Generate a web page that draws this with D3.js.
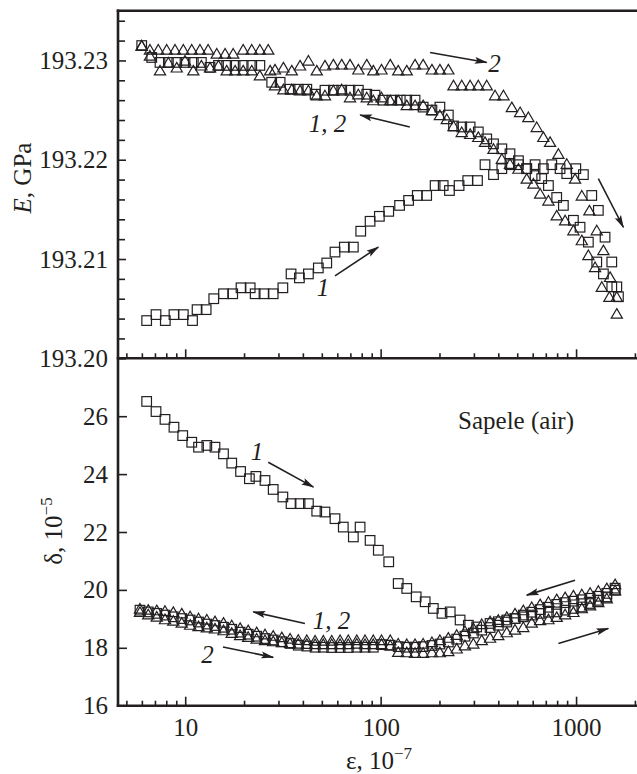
<!DOCTYPE html>
<html>
<head>
<meta charset="utf-8">
<script src="https://d3js.org/d3.v7.min.js"></script>
<style>
    body { margin: 0; background: #fff; }
    svg { display: block; }
    svg text { font-family: "Liberation Serif", "DejaVu Serif", "Noto Serif", Tinos, Times, serif; }
</style>
</head>
<body>
<div id="chart"></div>
<script>
// ---- data (strain in 1e-7, E in GPa, delta in 1e-5) ----
// top panel, E
const eSq1Up = [[6.35,193.2038],[7.09,193.2044],[7.91,193.2038],[8.76,193.2044],[9.78,193.2044],[10.9,193.2038],[11.5,193.2049],[12.8,193.2049],[14.0,193.2060],[15.7,193.2065],[17.5,193.2065],[19.3,193.2071],[21.5,193.2071],[22.8,193.2065],[25.3,193.2065],[28.2,193.2065],[31.6,193.2071],[34.8,193.2085],[38.4,193.2081],[42.7,193.2085],[48.0,193.2091],[53.0,193.2096],[58.4,193.2107],[65.2,193.2112],[72.5,193.2112],[79.1,193.2128],[88.3,193.2138],[98.5,193.2143],[110,193.2148],[125,193.2154],[139,193.2159],[154,193.2164],[172,193.2164],[190,193.2174],[209,193.2174],[225,193.2169],[252,193.2174],[279,193.2179],[313,193.2179],[342,193.2195],[378,193.2185],[417,193.2191],[459,193.2195],[507,193.2195],[559,193.2191],[617,193.2195],[680,193.2191],[751,193.2195],[828,193.2191],[896,193.2186],[997,193.2191],[1090,193.2185],[1203,193.2164],[1300,193.2149],[1407,193.2122],[1523,193.2097],[1616,193.2072]];
const eSqDown = [[1647,193.2062],[1523,193.2072],[1380,193.2085],[1276,193.2097],[1156,193.2117],[1048,193.2132],[969,193.2139],[861,193.2154],[796,193.2162],[722,193.2174],[667,193.2181],[617,193.2184],[559,193.2191],[507,193.2199],[459,193.2206],[417,193.2211],[378,193.2216],[349,193.2221],[316,193.2228],[287,193.2233],[260,193.2233],[236,193.2234],[222,193.2245],[201,193.2253],[183,193.2250],[165,193.2253],[150,193.2260],[136,193.2260],[126,193.2260],[114,193.2260],[103,193.2260],[93.6,193.2265],[84.9,193.2266],[76.9,193.2270],[69.7,193.2270],[63.2,193.2270],[57.3,193.2270],[51.9,193.2270],[46.2,193.2266],[41.9,193.2271],[37.9,193.2271],[34.4,193.2271],[30.6,193.2278],[27.7,193.2278],[24.1,193.2295],[21.9,193.2295],[19.8,193.2295],[18.0,193.2295],[16.3,193.2295],[14.8,193.2295],[13.4,193.2293],[12.1,193.2298],[11.0,193.2298],[9.98,193.2298],[9.05,193.2298],[8.20,193.2298],[7.43,193.2298],[6.74,193.2303],[5.99,193.2315]];
const eTri2Up = [[5.99,193.2315],[6.60,193.2311],[7.28,193.2311],[8.04,193.2311],[8.87,193.2311],[9.78,193.2311],[10.8,193.2311],[11.9,193.2311],[13.1,193.2311],[14.5,193.2307],[16.0,193.2307],[17.6,193.2307],[19.8,193.2311],[21.9,193.2311],[24.1,193.2311],[26.6,193.2311],[28.8,193.2291],[31.8,193.2293],[35.1,193.2290],[38.7,193.2295],[42.7,193.2300],[47.1,193.2290],[51.9,193.2295],[57.3,193.2296],[63.2,193.2296],[69.7,193.2296],[76.9,193.2291],[84.9,193.2296],[91.7,193.2290],[101,193.2291],[112,193.2296],[123,193.2290],[136,193.2290],[150,193.2296],[165,193.2296],[183,193.2291],[201,193.2291],[222,193.2291],[236,193.2275],[260,193.2275],[287,193.2275],[316,193.2275],[349,193.2275],[385,193.2265],[425,193.2265],[469,193.2253],[517,193.2248],[570,193.2243],[629,193.2233],[680,193.2223],[736,193.2218],[812,193.2206],[896,193.2196],[988,193.2181],[1070,193.2164],[1170,193.2149],[1276,193.2129],[1380,193.2109],[1493,193.2082],[1616,193.2045]];
const eTriDown = [[1616,193.2062],[1481,193.2062],[1354,193.2072],[1251,193.2092],[1156,193.2104],[1070,193.2119],[969,193.2129],[879,193.2139],[796,193.2144],[722,193.2159],[655,193.2166],[605,193.2176],[559,193.2181],[507,193.2191],[459,193.2196],[417,193.2201],[378,193.2211],[342,193.2218],[316,193.2223],[287,193.2226],[260,193.2228],[236,193.2234],[218,193.2241],[201,193.2245],[183,193.2250],[165,193.2255],[150,193.2255],[136,193.2255],[123,193.2260],[112,193.2260],[101,193.2263],[91.7,193.2260],[84.9,193.2263],[76.9,193.2266],[69.7,193.2263],[63.2,193.2271],[57.3,193.2270],[51.9,193.2265],[47.1,193.2265],[42.7,193.2270],[38.7,193.2270],[35.1,193.2271],[31.8,193.2271],[28.8,193.2275],[27.2,193.2290],[24.1,193.2285],[21.9,193.2290],[19.8,193.2290],[18.0,193.2290],[16.3,193.2290],[14.8,193.2295],[13.4,193.2293],[12.1,193.2295],[11.0,193.2290],[9.98,193.2300],[9.05,193.2293],[8.20,193.2298],[7.43,193.2290],[6.60,193.2305],[5.99,193.2315]];

// bottom panel, delta
const dSq1Up = [[6.35,26.51],[7.09,26.16],[7.88,25.89],[8.76,25.62],[9.71,25.33],[10.8,25.10],[11.7,24.93],[12.9,24.99],[14.2,24.93],[15.7,24.70],[17.3,24.38],[19.2,24.09],[21.3,23.84],[23.0,23.92],[25.6,23.78],[28.2,23.47],[31.6,23.21],[34.8,22.98],[38.7,22.98],[42.7,22.98],[47.1,22.72],[51.9,22.69],[58.4,22.46],[64.4,22.17],[72.5,21.83],[78.5,22.17],[88.3,21.71],[97.3,21.37],[110,20.97],[123,20.22],[136,20.05],[152,19.76],[169,19.59],[186,19.36],[206,19.19],[227,19.24],[255,18.96],[281,18.78],[310,18.72],[363,18.84],[400,18.90],[442,18.96],[487,19.01],[537,19.07],[593,19.13],[655,19.19],[722,19.23],[796,19.24],[879,19.30],[969,19.36],[1070,19.41],[1180,19.53],[1300,19.64],[1436,19.76],[1584,19.99]];
const dSqDown = [[1584,20.06],[1436,19.88],[1300,19.78],[1180,19.71],[1070,19.66],[969,19.61],[879,19.56],[796,19.50],[722,19.40],[655,19.32],[593,19.23],[537,19.13],[487,19.01],[442,18.89],[400,18.78],[363,18.70],[329,18.61],[298,18.51],[270,18.40],[245,18.30],[222,18.20],[201,18.13],[183,18.08],[165,18.04],[150,18.02],[136,18.02],[123,18.04],[112,18.09],[101,18.11],[91.7,18.02],[83.2,18.02],[75.5,18.02],[68.3,18.01],[62.0,18.01],[56.2,18.01],[50.9,18.02],[46.2,18.02],[41.9,18.06],[37.9,18.09],[34.4,18.15],[31.2,18.21],[28.2,18.27],[25.6,18.32],[23.2,18.40],[21.0,18.47],[19.1,18.54],[17.3,18.64],[15.7,18.71],[14.2,18.77],[12.9,18.82],[11.7,18.89],[10.6,18.96],[9.60,19.01],[8.69,19.07],[7.88,19.13],[7.15,19.19],[6.47,19.24],[5.87,19.30]];
const dTri2Up = [[5.87,19.24],[6.47,19.16],[7.15,19.08],[7.88,18.99],[8.69,18.94],[9.60,18.87],[10.6,18.80],[11.7,18.75],[12.9,18.71],[14.2,18.67],[15.7,18.61],[17.3,18.52],[19.1,18.44],[21.0,18.38],[23.2,18.32],[25.6,18.27],[28.2,18.23],[31.2,18.20],[34.4,18.17],[37.9,18.15],[41.9,18.14],[46.2,18.13],[50.9,18.13],[56.2,18.13],[62.0,18.13],[68.3,18.13],[75.5,18.15],[83.2,18.13],[91.7,18.13],[101,18.13],[112,18.09],[123,17.86],[136,17.85],[150,17.83],[165,17.83],[183,17.85],[201,17.85],[222,17.89],[245,17.98],[270,18.09],[298,18.15],[329,18.27],[363,18.35],[400,18.44],[442,18.54],[487,18.63],[537,18.72],[593,18.87],[655,18.96],[722,18.99],[796,19.07],[879,19.16],[969,19.24],[1070,19.37],[1180,19.47],[1300,19.58],[1436,19.71],[1584,19.99]];
const dTriDown = [[5.87,19.36],[6.47,19.32],[7.15,19.30],[7.88,19.28],[8.69,19.24],[9.60,19.19],[10.6,19.09],[11.7,19.02],[12.9,18.98],[14.2,18.92],[15.7,18.87],[17.3,18.78],[19.1,18.69],[21.0,18.61],[23.2,18.54],[25.6,18.47],[28.2,18.42],[31.2,18.37],[34.4,18.32],[37.9,18.28],[41.9,18.27],[46.2,18.25],[50.9,18.25],[56.2,18.25],[62.0,18.27],[68.3,18.27],[75.5,18.27],[83.2,18.27],[91.7,18.27],[101,18.27],[112,18.27],[123,18.15],[136,18.13],[150,18.13],[165,18.15],[183,18.20],[201,18.27],[222,18.35],[245,18.45],[270,18.58],[298,18.68],[329,18.82],[363,18.92],[400,18.97],[442,19.07],[487,19.19],[537,19.30],[593,19.41],[655,19.51],[722,19.59],[796,19.68],[879,19.75],[969,19.81],[1070,19.85],[1180,19.90],[1300,19.97],[1436,20.06],[1584,20.20]];

// ticks
const xMajor = [10, 100, 1000];
const xMinor = [5,6,7,8,9,20,30,40,50,60,70,80,90,200,300,400,500,600,700,800,900,2000];
const eMajor = [193.20, 193.21, 193.22, 193.23];
const eMinor = [193.202,193.204,193.206,193.208,193.212,193.214,193.216,193.218,193.222,193.224,193.226,193.228,193.232,193.234];
const dMajor = [16, 18, 20, 22, 24, 26];

// annotations (data coords)
const eArrows = [[[179,193.2308],[349,193.2298]], [[141,193.2233],[78.5,193.2245]], [[58.4,193.2083],[97.3,193.2112]], [[1300,193.2181],[1746,193.2132]]];
const eLabels = [["2",383,193.2297], ["1, 2",53.5,193.2237], ["1",50.7,193.2072]];
const dArrows = [[[26.6,24.41],[45.3,23.55]], [[41.0,18.84],[22.3,19.24]], [[15.6,18.03],[28.2,17.67]], [[988,20.33],[559,19.82]], [[812,18.15],[1463,18.67]]];
const dLabels = [["1",23.3,24.78], ["1, 2",56.1,18.96], ["2",13.0,17.77]];

// ---- layout ----
const W = 637, H = 774;
const ink = "#231f20";
const fs = 25;
const serif = "Liberation Serif, DejaVu Serif, Noto Serif, Tinos, Times, serif";

const svg = d3.select("#chart").append("svg").attr("width", W).attr("height", H)
    .attr("font-family", serif);

const x = d3.scaleLog().domain([4.53, 2050]).range([118, 637]);
const yE = d3.scaleLinear().domain([193.20, 193.235]).range([358.3, 10.8]);
const yD = d3.scaleLinear().domain([16, 28]).range([705.7, 358.3]);

const defs = svg.append("defs");
defs.append("marker").attr("id", "ah")
    .attr("viewBox", "0 0 13 8").attr("refX", 12).attr("refY", 4)
    .attr("markerWidth", 13).attr("markerHeight", 8)
    .attr("markerUnits", "userSpaceOnUse").attr("orient", "auto")
    .append("path").attr("d", "M0,0.5L13,4L0,7.5L2.5,4Z").attr("fill", ink);

function styleAxis(g) {
    g.attr("font-family", serif).attr("font-size", fs);
    g.select(".domain").remove();
    g.selectAll(".tick line").attr("stroke", ink).attr("stroke-width", 1.6);
    g.selectAll(".tick text").attr("fill", ink);
}

// x axes: bottom and middle
[yD(16), yE(193.20)].forEach(function (yy, i) {
    svg.append("g").attr("transform", "translate(0," + yy + ")")
        .call(d3.axisBottom(x).tickValues(xMajor).tickSize(-9).tickSizeOuter(0).tickPadding(13)
            .tickFormat(i == 0 ? d3.format("d") : ""))
        .call(styleAxis);
    svg.append("g").attr("transform", "translate(0," + yy + ")")
        .call(d3.axisBottom(x).tickValues(xMinor).tickSize(-5).tickSizeOuter(0).tickFormat(""))
        .call(styleAxis);
});

// y axes
svg.append("g").attr("transform", "translate(118,0)")
    .call(d3.axisLeft(yE).tickValues(eMajor).tickSize(-8).tickPadding(10).tickFormat(d3.format(".2f")))
    .call(styleAxis);
svg.append("g").attr("transform", "translate(118,0)")
    .call(d3.axisLeft(yE).tickValues(eMinor).tickSize(-7).tickFormat(""))
    .call(styleAxis);
svg.append("g").attr("transform", "translate(118,0)")
    .call(d3.axisLeft(yD).tickValues(dMajor).tickSize(-9).tickPadding(10).tickFormat(d3.format("d")))
    .call(styleAxis);

// frame lines
const frame = svg.append("g").attr("stroke", ink).attr("stroke-width", 2.6).attr("stroke-linecap", "square");
frame.append("line").attr("x1", x.range()[0]).attr("x2", x.range()[0]).attr("y1", yE.range()[1]).attr("y2", yD(16));
[yE.range()[1], yE(193.20), yD(16)].forEach(function (yy) {
    frame.append("line").attr("x1", x.range()[0]).attr("x2", x.range()[1]).attr("y1", yy).attr("y2", yy);
});

// markers
const tri = "M0,-5L5.6,4.6L-5.6,4.6Z";
function squares(data, y) {
    svg.append("g").selectAll("rect").data(data).enter().append("rect")
        .attr("x", d => x(d[0]) - 4.8).attr("y", d => y(d[1]) - 4.8)
        .attr("width", 9.6).attr("height", 9.6)
        .attr("fill", "none").attr("stroke", ink).attr("stroke-width", 1.2);
}
function triangles(data, y) {
    svg.append("g").selectAll("path").data(data).enter().append("path")
        .attr("d", tri)
        .attr("transform", d => "translate(" + x(d[0]) + "," + y(d[1]) + ")")
        .attr("fill", "none").attr("stroke", ink).attr("stroke-width", 1.2);
}
squares(eSq1Up, yE); squares(eSqDown, yE);
triangles(eTri2Up, yE); triangles(eTriDown, yE);
squares(dSq1Up, yD); squares(dSqDown, yD);
triangles(dTri2Up, yD); triangles(dTriDown, yD);

// arrows + curve labels
function annotate(arrows, labels, y) {
    arrows.forEach(function (a) {
        svg.append("line")
            .attr("x1", x(a[0][0])).attr("y1", y(a[0][1]))
            .attr("x2", x(a[1][0])).attr("y2", y(a[1][1]))
            .attr("stroke", ink).attr("stroke-width", 1.6).attr("marker-end", "url(#ah)");
    });
    labels.forEach(function (l) {
        svg.append("text").attr("x", x(l[1])).attr("y", y(l[2])).attr("dy", "0.35em")
            .attr("text-anchor", "middle").attr("font-style", "italic")
            .attr("font-size", fs).attr("fill", ink).text(l[0]);
    });
}
annotate(eArrows, eLabels, yE);
annotate(dArrows, dLabels, yD);

svg.append("text").attr("x", x(493)).attr("y", yD(25.85)).attr("dy", "0.35em")
    .attr("text-anchor", "middle").attr("font-size", fs).attr("fill", ink).text("Sapele (air)");

// axis titles
const tE = svg.append("text").attr("transform", "translate(22,178) rotate(-90)").attr("dy", "0.35em")
    .attr("text-anchor", "middle").attr("font-size", fs).attr("fill", ink);
tE.append("tspan").attr("font-style", "italic").text("E");
tE.append("tspan").text(", GPa");

const tD = svg.append("text").attr("transform", "translate(53,531) rotate(-90)").attr("dy", "0.35em")
    .attr("text-anchor", "middle").attr("font-size", fs).attr("fill", ink);
tD.append("tspan").text("δ, 10");
tD.append("tspan").attr("font-size", 17).attr("dy", "-0.55em").text("−5");

const tX = svg.append("text").attr("x", 379).attr("y", 769)
    .attr("text-anchor", "middle").attr("font-size", fs).attr("fill", ink);
tX.append("tspan").text("ε, 10");
tX.append("tspan").attr("font-size", 17).attr("dy", "-10").text("−7");
</script>
</body>
</html>
